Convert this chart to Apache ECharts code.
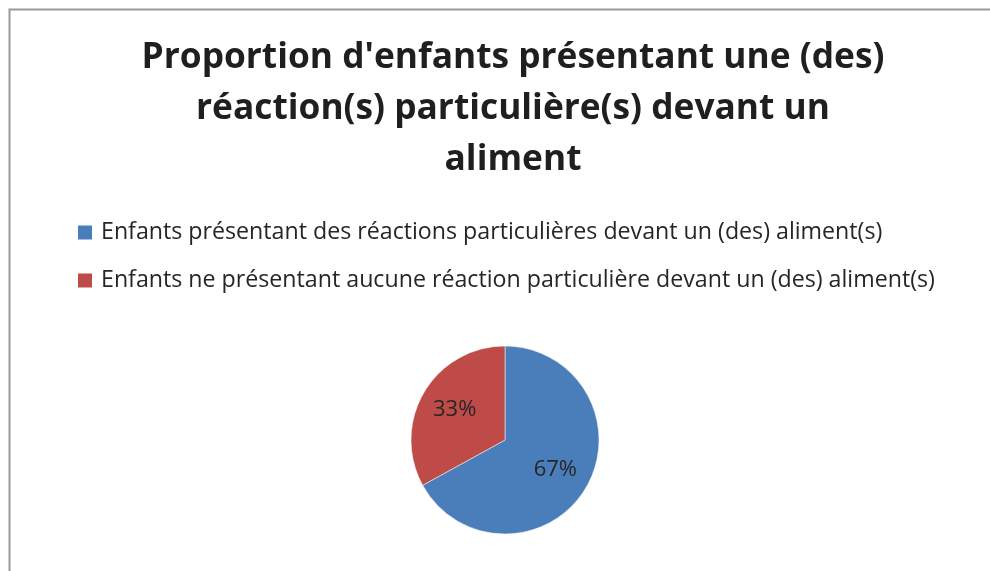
<!DOCTYPE html>
<html>
<head>
<meta charset="utf-8">
<script src="https://cdn.jsdelivr.net/npm/echarts@6/dist/echarts.min.js"></script>
<style>
  html, body { margin: 0; padding: 0; background: #fff; }
  #chart { width: 990px; height: 571px; }
</style>
</head>
<body>
<div id="chart"></div>
<script>
// données
const categories = [
  'Enfants présentant des réactions particulières devant un (des) aliment(s)',
  'Enfants ne présentant aucune réaction particulière devant un (des) aliment(s)'
];
const values = [67, 33];
const colors = ['#4a7ebb', '#be4b48'];
const titleText = "Proportion d'enfants présentant une (des)\nréaction(s) particulière(s) devant un\naliment";

const chart = echarts.init(document.getElementById('chart'));

const pieData = categories.map((name, i) => ({ name: name, value: values[i] }));

const option = {
  backgroundColor: '#fff',
  animation: false,
  title: {
    text: titleText,
    left: 508,
    top: 27,
    textAlign: 'center',
    textStyle: {
      fontFamily: 'Open Sans',
      fontWeight: 'bold',
      fontSize: 35.3,
      lineHeight: 51,
      color: '#1f1f1f'
    }
  },
  legend: {
    orient: 'vertical',
    left: 73,
    top: 216,
    itemWidth: 14,
    itemHeight: 14,
    itemGap: 25,
    icon: 'rect',
    itemStyle: { borderWidth: 0 },
    data: categories,
    textStyle: {
      fontFamily: 'Open Sans',
      fontSize: 23.2,
      color: '#262626',
      padding: [0, 0, 0, 4]
    }
  },
  color: colors,
  graphic: [{
    type: 'rect',
    shape: { x: 9.5, y: 9.5, width: 1000, height: 600 },
    style: { fill: 'none', stroke: '#9a9a9a', lineWidth: 2 },
    silent: true,
    z: -1
  }],
  series: [
    {
      type: 'pie',
      center: [505, 440],
      radius: [0, 94],
      startAngle: 90,
      clockwise: true,
      data: pieData,
      itemStyle: { borderColor: '#ffffff', borderWidth: 0.5 },
      label: { show: false },
      labelLine: { show: false }
    },
    {
      // série transparente pour placer les étiquettes plus loin du centre
      type: 'pie',
      center: [505, 440],
      radius: [0, 111],
      startAngle: 90,
      clockwise: true,
      silent: true,
      legendHoverLink: false,
      data: pieData,
      itemStyle: { color: 'rgba(0,0,0,0)', borderWidth: 0 },
      emphasis: { disabled: true },
      label: {
        show: true,
        position: 'inside',
        formatter: p => p.value + '%',
        fontFamily: 'Open Sans',
        fontSize: 22,
        color: '#262626'
      },
      labelLine: { show: false }
    }
  ]
};

chart.setOption(option);
</script>
</body>
</html>
